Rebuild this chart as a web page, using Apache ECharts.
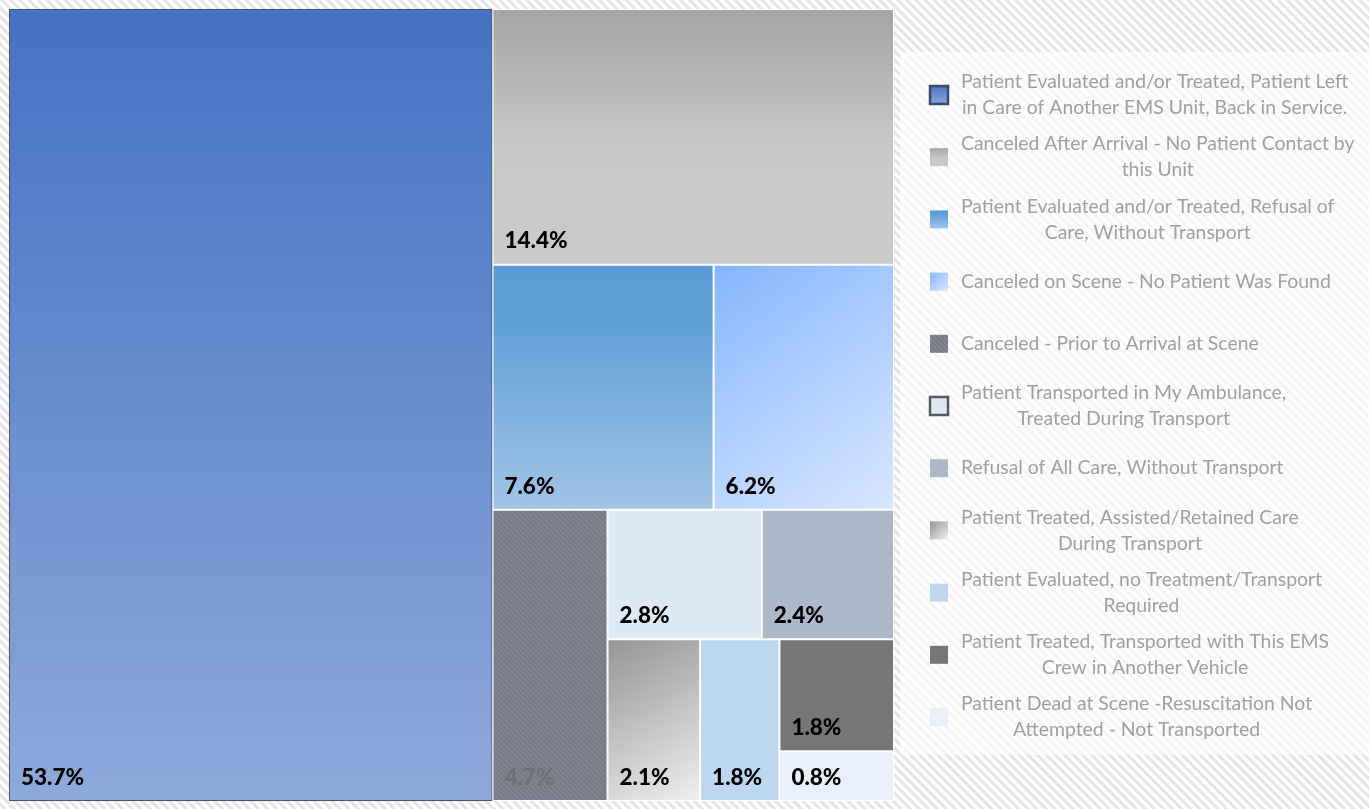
<!DOCTYPE html>
<html>
<head>
<meta charset="utf-8">
<script src="https://cdn.jsdelivr.net/npm/echarts@6/dist/echarts.min.js"></script>
<style>
  html, body {
    margin: 0; padding: 0; width: 1369px; height: 809px; overflow: hidden;
    background: repeating-linear-gradient(45deg, #ffffff 0px, #fbfbfb 1.5px, #e2e2e2 3.2px, #e2e2e2 4.2px, #fbfbfb 5.8px, #ffffff 6.4px);
  }
  #chart { width: 1369px; height: 809px; }
</style>
</head>
<body>
<div id="chart"></div>
<script>
// Call dispositions (legend text keeps its wrap points)
const categories = [
  'Patient Evaluated and/or Treated, Patient Left\nin Care of Another EMS Unit, Back in Service.',
  'Canceled After Arrival - No Patient Contact by\nthis Unit',
  'Patient Evaluated and/or Treated, Refusal of\nCare, Without Transport',
  'Canceled on Scene - No Patient Was Found',
  'Canceled - Prior to Arrival at Scene',
  'Patient Transported in My Ambulance,\nTreated During Transport',
  'Refusal of All Care, Without Transport',
  'Patient Treated, Assisted/Retained Care\nDuring Transport',
  'Patient Evaluated, no Treatment/Transport\nRequired',
  'Patient Treated, Transported with This EMS\nCrew in Another Vehicle',
  'Patient Dead at Scene -Resuscitation Not\nAttempted - Not Transported'
];

// Share of calls, percent
const shares = [53.7, 14.4, 7.6, 6.2, 4.7, 2.8, 2.4, 2.1, 1.8, 1.8, 0.8];

// ---- styling ----
function linear(x2, y2, stops) {
  return {
    type: 'linear', x: 0, y: 0, x2: x2, y2: y2,
    colorStops: stops.map(s => ({ offset: s[0], color: s[1] }))
  };
}

function stripePattern(base, stripe, size) {
  const c = document.createElement('canvas');
  c.width = size; c.height = size;
  const g = c.getContext('2d');
  g.fillStyle = base;
  g.fillRect(0, 0, size, size);
  g.strokeStyle = stripe;
  g.lineWidth = 1.4;
  for (let k = -1; k <= 1; k++) {
    g.beginPath();
    g.moveTo(k * size, 0);
    g.lineTo(k * size + size, size);
    g.stroke();
  }
  return { image: c, repeat: 'repeat' };
}

const fills = [
  linear(0, 1, [[0, '#4472C4'], [1, '#8EA9DB']]),
  linear(0, 1, [[0, '#A5A5A5'], [0.55, '#C8C8C8'], [1, '#CACACA']]),
  linear(0, 1, [[0, '#5B9BD5'], [0.25, '#60A0D7'], [1, '#A2C4E8']]),
  linear(1, 1, [[0, '#86B6FF'], [1, '#D9E7FF']]),
  stripePattern('#808692', '#70757f', 5),
  '#DDEAF6',
  '#ADB9CA',
  linear(1, 1, [[0, '#959595'], [1, '#EFEFEF']]),
  '#BDD7EE',
  '#767676',
  '#E9EFFB'
];

const cellBorders = ['#4A5466', '#ffffff', '#ffffff', '#ffffff', '#ffffff', '#ffffff',
                     '#ffffff', '#ffffff', '#ffffff', '#ffffff', '#ffffff'];
const labelColors = ['#000', '#000', '#000', '#000', '#6c7079', '#000',
                     '#000', '#000', '#000', '#000', '#000'];
const iconBorders = ['#3B4A66', null, null, null, null, '#5A5A5A', null, null, null, null, null];

const treeData = categories.map((name, i) => ({
  name: name.replace('\n', ' '),
  value: shares[i],
  itemStyle: { color: fills[i], borderColor: cellBorders[i] },
  label: { color: labelColors[i] }
}));

// ---- legend (drawn as graphic elements) ----
const legendFont = '19.4px Lato';
const measure = document.createElement('canvas').getContext('2d');
measure.font = legendFont;

const legendTop = 95, legendStep = 62.2, textLeft = 961;
const legendEls = [{
  type: 'rect', silent: true,
  shape: { x: 900, y: 52, width: 469, height: 703 },
  style: { fill: 'rgba(255,255,255,0.62)' }
}];
categories.forEach((name, i) => {
  const cy = legendTop + i * legendStep;
  const lines = name.split('\n');
  const w = Math.max(...lines.map(l => measure.measureText(l).width));
  const bordered = !!iconBorders[i];
  legendEls.push({
    type: 'rect', silent: true,
    shape: { x: 930, y: cy - 9, width: 18, height: 18 },
    style: bordered
      ? { fill: fills[i], stroke: iconBorders[i], lineWidth: 2.5 }
      : { fill: fills[i] }
  });
  legendEls.push({
    type: 'text', silent: true,
    x: textLeft + w / 2, y: cy,
    style: {
      text: name, font: legendFont, fill: '#A0A0A0',
      align: 'center', verticalAlign: 'middle',
      textAlign: 'center', textVerticalAlign: 'middle',
      lineHeight: 26
    }
  });
});

const chart = echarts.init(document.getElementById('chart'), null, { renderer: 'canvas' });
chart.setOption({
  animation: false,
  tooltip: { show: false },
  graphic: { elements: legendEls },
  series: [{
    type: 'treemap',
    left: 9, top: 9, width: 885, height: 792,
    roam: false,
    nodeClick: false,
    sort: false,
    squareRatio: 0.75,
    breadcrumb: { show: false },
    label: {
      show: true,
      position: 'insideBottomLeft',
      distance: 11,
      padding: 0,
      fontFamily: 'Lato',
      fontWeight: 900,
      fontSize: 22.5,
      color: '#000',
      formatter: p => p.value.toFixed(1) + '%'
    },
    levels: [
      { itemStyle: { borderWidth: 0, gapWidth: 0 } },
      { itemStyle: { borderWidth: 1, gapWidth: 0 } }
    ],
    emphasis: { disabled: true },
    data: treeData
  }]
});
</script>
</body>
</html>
